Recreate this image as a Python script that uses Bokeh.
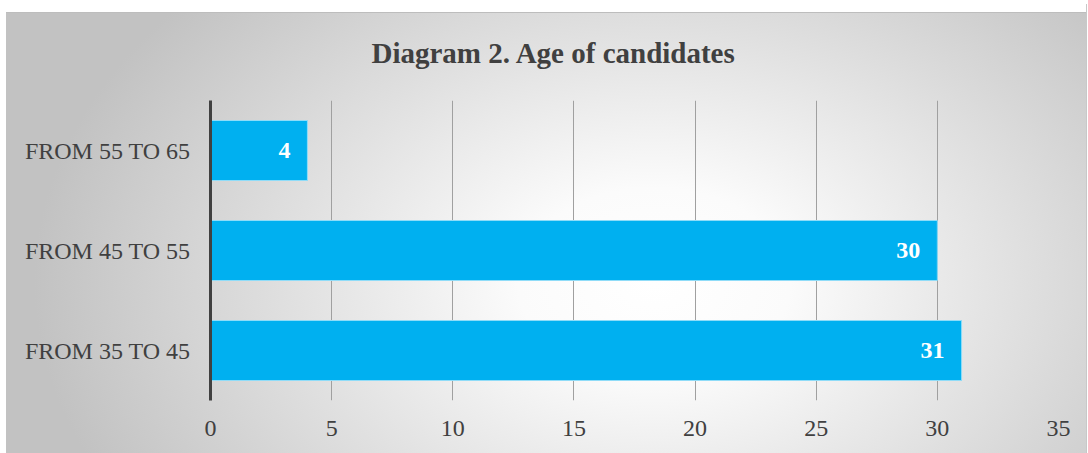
from bokeh.plotting import figure
from bokeh.models import Range1d, FixedTicker, FactorRange
from bokeh.core.properties import value
from bokeh.embed import file_html
from bokeh.resources import INLINE

# data
categories = ["FROM 35 TO 45", "FROM 45 TO 55", "FROM 55 TO 65"]
counts = [31, 30, 4]
labels = [str(c) for c in counts]
x_ticks = [0, 5, 10, 15, 20, 25, 30, 35]
title_text = "Diagram 2. Age of candidates"

FONT = "Liberation Serif"

p = figure(
    width=1081, height=449,
    y_range=FactorRange(*categories, range_padding=0),
    x_range=Range1d(0, 35),
    output_backend="svg", toolbar_location=None,
    min_border_left=204, min_border_right=29,
    min_border_top=96, min_border_bottom=53,
    title=title_text,
)
p.styles = {
    "margin-top": "4px",
    "margin-left": "6px",
    "border-right": "1px solid #c8c8c8",
    "background": (
        "linear-gradient(#bdbdbd, #bdbdbd) 0 8px / 100% 1px no-repeat, "
        "linear-gradient(#ffffff, #ffffff) 0 0 / 100% 8px no-repeat, "
        "radial-gradient(ellipse 620px 430px at 60% 62%, #ffffff 0%, #fbfbfb 22%, #c2c2c2 100%)"
    ),
}
p.background_fill_color = None
p.border_fill_color = None
p.outline_line_color = None

p.title.text_font = FONT
p.title.text_font_size = "29px"
p.title.text_font_style = "bold"
p.title.text_color = "#404040"
p.title.align = "left"
p.title.offset = 161
p.title.vertical_align = "top"
p.title.standoff = 60

p.hbar(y=categories, right=counts, left=0, height=0.6,
       fill_color="#00b0f0", line_color="#8fdcf8", line_width=1)

p.text(x=counts, y=categories, text=labels,
       text_align="right", text_baseline="middle", x_offset=-17,
       text_color="white", text_font=value(FONT),
       text_font_style="bold", text_font_size="24px")

p.xaxis.ticker = FixedTicker(ticks=x_ticks)
p.xaxis.axis_line_color = None
p.xaxis.major_tick_line_color = None
p.xaxis.minor_tick_line_color = None
p.xaxis.major_label_text_font = FONT
p.xaxis.major_label_text_font_size = "24px"
p.xaxis.major_label_text_color = "#404040"
p.xaxis.major_label_standoff = 14

p.yaxis.axis_line_color = "#404040"
p.yaxis.axis_line_width = 3
p.yaxis.major_tick_line_color = None
p.yaxis.minor_tick_line_color = None
p.yaxis.major_label_text_font = FONT
p.yaxis.major_label_text_font_size = "24px"
p.yaxis.major_label_text_color = "#404040"
p.yaxis.major_label_standoff = 14

p.ygrid.grid_line_color = None
p.xgrid.ticker = FixedTicker(ticks=x_ticks)
p.xgrid.grid_line_color = "#a0a0a0"
p.xgrid.grid_line_width = 1

open("out.html", "w").write(file_html(p, INLINE))
